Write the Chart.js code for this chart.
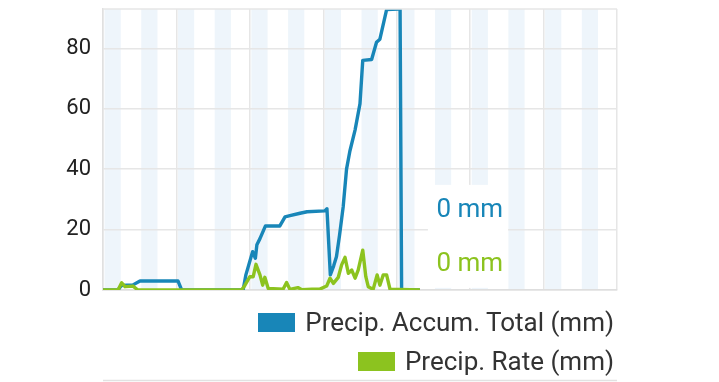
<!DOCTYPE html>
<html>
<head>
<meta charset="utf-8">
<script src="https://cdn.jsdelivr.net/npm/chart.js@4"></script>
<style>
  html, body { margin: 0; padding: 0; background: #fff; }
  #wrap { position: relative; width: 719px; height: 382px; overflow: hidden; font-family: Roboto, "Noto Sans", sans-serif; }
  #c { position: absolute; left: 0; top: 0; }
  #legend { position: absolute; right: 105px; top: 308px; display: flex; flex-direction: column; align-items: flex-end; gap: 11px; }
  .item { display: flex; align-items: center; font-size: 26px; color: #333; line-height: 28px; }
  .box { width: 37px; height: 19px; margin-right: 10px; }
</style>
</head>
<body>
<div id="wrap">
  <canvas id="c" width="719" height="382"></canvas>
  <div id="legend"></div>
</div>
<script>
// Hours since start of the 7-day window
const accumHours = [0, 4.9, 6.0, 9.8, 12.1, 24.5, 25.7, 45.8, 46.7, 48.9, 49.8, 50.3, 51.3, 53.1, 57.8, 59.5, 61.1, 64.4, 66.7, 72.5, 73.2, 74.3, 75.4, 76.3, 77.3, 78.5, 79.6, 80.7, 82.4, 84.0, 84.9, 87.8, 89.4, 90.5, 92.7, 96.5, 97.1, 97.6, 103.6];
const accumTotal = [0, 0, 1.5, 1.7, 3, 3, 0, 0, 5, 12.7, 10.5, 15, 17, 21.2, 21.2, 24.2, 24.6, 25.4, 25.9, 26.2, 26.9, 5, 8, 11, 18, 27.5, 40, 46, 53, 61.7, 76, 76.3, 82, 83, 92.8, 93, 93, 0, 0];

const rateHours = [0, 4.9, 6.1, 7.2, 9.8, 11.4, 45.3, 46.4, 48.0, 49.1, 50.0, 51.3, 52.2, 52.9, 54.0, 58.9, 60.0, 61.1, 63.7, 65.0, 68.3, 70.9, 73.1, 74.2, 75.3, 76.9, 78.0, 79.1, 80.2, 81.3, 82.4, 83.4, 84.9, 85.9, 86.7, 88.3, 89.6, 90.5, 91.6, 92.7, 93.8, 103.6];
const rateValues = [0, 0, 2.4, 1.1, 1.3, 0, 0, 1.6, 4.4, 4.4, 8.5, 5, 1.6, 4.2, 0.5, 0.3, 2.5, 0.2, 0.8, 0.1, 0.3, 0.3, 1.3, 3.9, 2.2, 4.2, 8.3, 10.8, 5.5, 6.6, 3.9, 6.6, 13.2, 4.4, 1.1, 0.2, 5, 1.6, 5, 5, 0.3, 0];

const seriesNames = ['Precip. Accum. Total (mm)', 'Precip. Rate (mm)'];
const seriesColors = ['#1886b8', '#8cc31f'];
const yTicks = [0, 20, 40, 60, 80];
const unit = 'mm';

const toPoints = (xs, ys) => xs.map((x, i) => ({ x: x, y: ys[i] }));

const bandsPlugin = {
  id: 'bands',
  beforeDraw(chart) {
    const { ctx, chartArea: a, scales: { x } } = chart;
    ctx.save();
    ctx.fillStyle = '#eef5fb';
    for (let h = 0; h < 168; h += 12) {
      const x0 = x.getPixelForValue(h + 0.5);
      const x1 = x.getPixelForValue(h + 5.8);
      ctx.fillRect(x0, a.top, x1 - x0, a.bottom - a.top);
    }
    ctx.restore();
  }
};

const labelPlugin = {
  id: 'lastLabels',
  afterDraw(chart) {
    const { ctx, scales: { x, y } } = chart;
    ctx.save();
    const bx = x.getPixelForValue(106.2), bw = x.getPixelForValue(132.4) - bx;
    const by = y.getPixelForValue(34.8), bh = y.getPixelForValue(0.7) - by;
    ctx.fillStyle = '#fff';
    ctx.fillRect(bx, by, bw, bh);
    ctx.font = '26px Roboto';
    ctx.textAlign = 'left';
    ctx.textBaseline = 'middle';
    const vals = [accumTotal[accumTotal.length - 1], rateValues[rateValues.length - 1]];
    const tx = x.getPixelForValue(109);
    ctx.fillStyle = seriesColors[0];
    ctx.fillText(vals[0] + ' ' + unit, tx, y.getPixelForValue(26.2));
    ctx.fillStyle = seriesColors[1];
    ctx.fillText(vals[1] + ' ' + unit, tx, y.getPixelForValue(8.5));
    // top border of plot
    ctx.strokeStyle = '#e6e6e6';
    ctx.lineWidth = 1.5;
    ctx.beginPath();
    ctx.moveTo(x.left, y.top);
    ctx.lineTo(x.right, y.top);
    ctx.stroke();
    // separator line below chart
    ctx.strokeStyle = '#e2e2e2';
    ctx.beginPath();
    ctx.moveTo(x.left, 380.5);
    ctx.lineTo(x.right, 380.5);
    ctx.stroke();
    ctx.restore();
  }
};

const chart = new Chart(document.getElementById('c'), {
  type: 'line',
  data: {
    datasets: [
      { label: seriesNames[0], data: toPoints(accumHours, accumTotal), borderColor: seriesColors[0], backgroundColor: seriesColors[0], borderWidth: 3.4, pointRadius: 0, tension: 0, order: 1, borderJoinStyle: 'round' },
      { label: seriesNames[1], data: toPoints(rateHours, rateValues), borderColor: seriesColors[1], backgroundColor: seriesColors[1], borderWidth: 3.4, pointRadius: 0, tension: 0, order: 0, borderJoinStyle: 'round' }
    ]
  },
  options: {
    responsive: false,
    animation: false,
    layout: { padding: { left: 0, right: 102, top: 9, bottom: 92 } },
    plugins: { legend: { display: false }, tooltip: { enabled: false } },
    scales: {
      x: {
        type: 'linear', min: 0, max: 168,
        ticks: { display: false, stepSize: 24 },
        grid: { color: '#e6e6e6', lineWidth: 1.5, drawTicks: false },
        border: { color: '#dedede', width: 1.5 },
        afterFit(s) { s.height = 0; s.paddingLeft = 0; s.paddingRight = 0; }
      },
      y: {
        min: 0, max: 93,
        afterBuildTicks(s) {
          s.ticks = yTicks.map(v => ({ value: v }));
        },
        ticks: {
          padding: 12, color: '#222',
          font: { family: 'Roboto', size: 22 }
        },
        grid: { color: '#e6e6e6', lineWidth: 1.5, drawTicks: false },
        border: { color: '#e0e0e0', width: 1.5 },
        afterFit(s) { s.width = 103; s.paddingTop = 0; s.paddingBottom = 0; }
      }
    }
  },
  plugins: [bandsPlugin, labelPlugin]
});

const legend = document.getElementById('legend');
chart.data.datasets.forEach(ds => {
  const item = document.createElement('div');
  item.className = 'item';
  const box = document.createElement('span');
  box.className = 'box';
  box.style.background = ds.backgroundColor;
  const txt = document.createElement('span');
  txt.textContent = ds.label;
  item.appendChild(box);
  item.appendChild(txt);
  legend.appendChild(item);
});
</script>
</body>
</html>
